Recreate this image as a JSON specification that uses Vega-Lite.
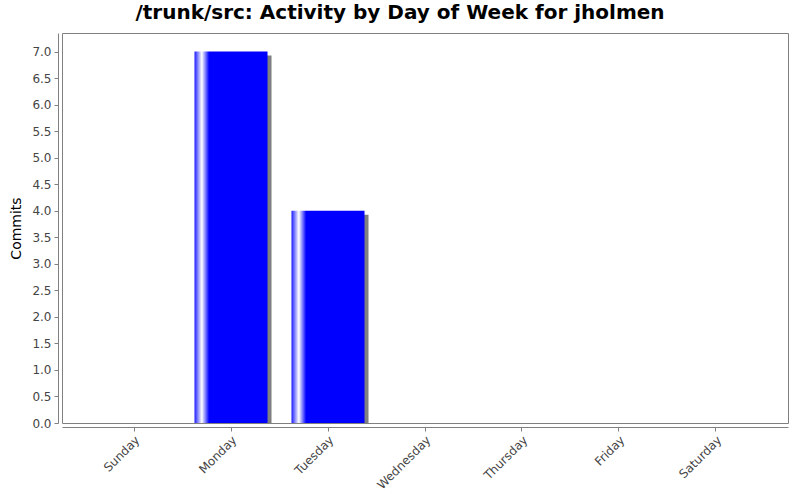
{
  "$schema": "https://vega.github.io/schema/vega-lite/v6.json",
  "width": 726,
  "height": 390,
  "autosize": "none",
  "padding": {"left": 62, "top": 33, "right": 12, "bottom": 77},
  "background": "white",
  "config": {
    "font": "DejaVu Sans",
    "view": {"stroke": "#808080", "strokeWidth": 1}
  },
  "title": {
    "text": "/trunk/src: Activity by Day of Week for jholmen",
    "fontSize": 20,
    "fontWeight": "bold",
    "font": "DejaVu Sans",
    "color": "#000000",
    "anchor": "middle",
    "dx": -25,
    "offset": 10
  },
  "data": {
    "values": [
      {"day": "Sunday", "commits": 0},
      {"day": "Monday", "commits": 7},
      {"day": "Tuesday", "commits": 4},
      {"day": "Wednesday", "commits": 0},
      {"day": "Thursday", "commits": 0},
      {"day": "Friday", "commits": 0},
      {"day": "Saturday", "commits": 0}
    ]
  },
  "encoding": {
    "x": {
      "field": "day",
      "type": "nominal",
      "sort": null,
      "scale": {"paddingInner": 0.247, "paddingOuter": 0.366},
      "axis": {
        "title": null,
        "labelAngle": -45,
        "labelFontSize": 12,
        "labelColor": "#444444",
        "domainColor": "#808080",
        "tickColor": "#808080",
        "tickSize": 4,
        "offset": 4,
        "labelPadding": 3
      }
    },
    "y": {
      "field": "commits",
      "type": "quantitative",
      "scale": {"domain": [0, 7.35], "nice": false, "zero": true},
      "axis": {
        "title": "Commits",
        "titleFontSize": 14,
        "titleFontWeight": "normal",
        "titleColor": "#000000",
        "titlePadding": 8,
        "values": [0, 0.5, 1, 1.5, 2, 2.5, 3, 3.5, 4, 4.5, 5, 5.5, 6, 6.5, 7],
        "format": ".1f",
        "grid": false,
        "labelFontSize": 12,
        "labelColor": "#444444",
        "domainColor": "#808080",
        "tickColor": "#808080",
        "tickSize": 4,
        "offset": 4,
        "labelPadding": 3
      }
    }
  },
  "layer": [
    {
      "mark": {"type": "bar", "color": "#808080", "xOffset": 4, "yOffset": 4, "clip": true}
    },
    {
      "mark": {
        "type": "bar",
        "clip": true,
        "color": {
          "gradient": "linear",
          "x1": 0, "y1": 0, "x2": 1, "y2": 0,
          "stops": [
            {"offset": 0, "color": "#1a1aff"},
            {"offset": 0.1, "color": "#ffffff"},
            {"offset": 0.2, "color": "#0000ff"},
            {"offset": 1, "color": "#0000ff"}
          ]
        }
      }
    }
  ]
}
